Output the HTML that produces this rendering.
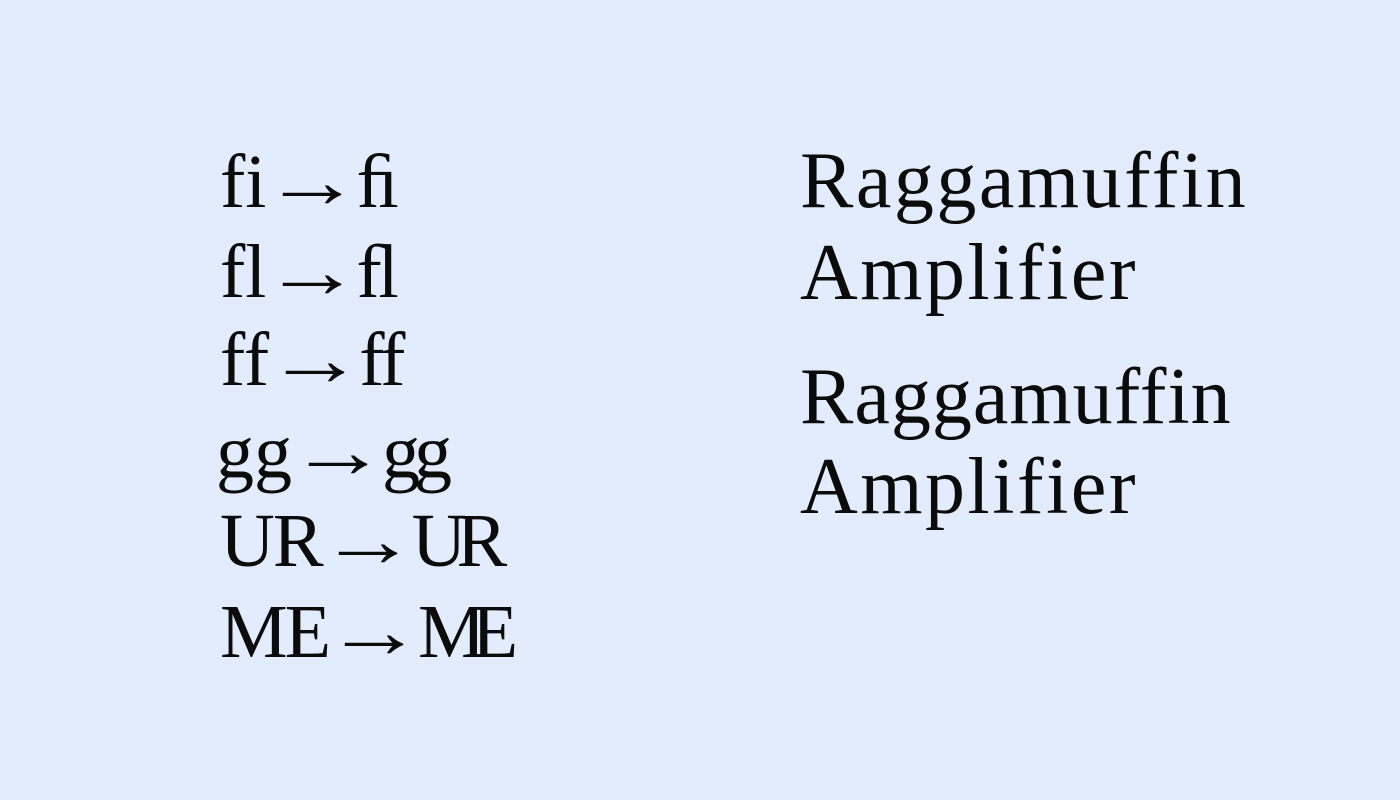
<!DOCTYPE html>
<html><head><meta charset="utf-8"><style>
html,body{margin:0;padding:0}
body{width:1400px;height:800px;background:#e2ecfd;position:relative;overflow:hidden;font-family:"Liberation Serif",serif;color:#0b0b0b}
.t{position:absolute;line-height:1;white-space:nowrap}
.l{font-size:76px;left:220px}
.r{font-size:80px;left:800px;letter-spacing:2.5px}
.a{display:inline-block;transform:scaleX(1.3);margin:0 6px 0 8px;letter-spacing:0}
.lg{letter-spacing:-6px}
</style></head><body>
<div class="t l" style="top:144px">fi<span class="a">→</span>ﬁ</div>
<div class="t l" style="top:234px">fl<span class="a">→</span>ﬂ</div>
<div class="t l" style="top:322px">ff<span class="a">→</span><span class="lg" style="letter-spacing:-3px">ff</span></div>
<div class="t l" style="top:414px;left:216px">gg<span class="a">→</span><span class="lg">gg</span></div>
<div class="t l" style="top:503px;letter-spacing:-2px">UR<span class="a">→</span><span class="lg" style="letter-spacing:-10px">UR</span></div>
<div class="t l" style="top:594px;letter-spacing:-3px">ME<span class="a">→</span><span class="lg" style="letter-spacing:-14px">ME</span></div>
<div class="t r" style="top:141px">Raggamuffin</div>
<div class="t r" style="top:233px">Amplifier</div>
<div class="t r" style="top:357px;letter-spacing:1px">Raggamuffin</div>
<div class="t r" style="top:447px">Amplifier</div>
</body></html>
